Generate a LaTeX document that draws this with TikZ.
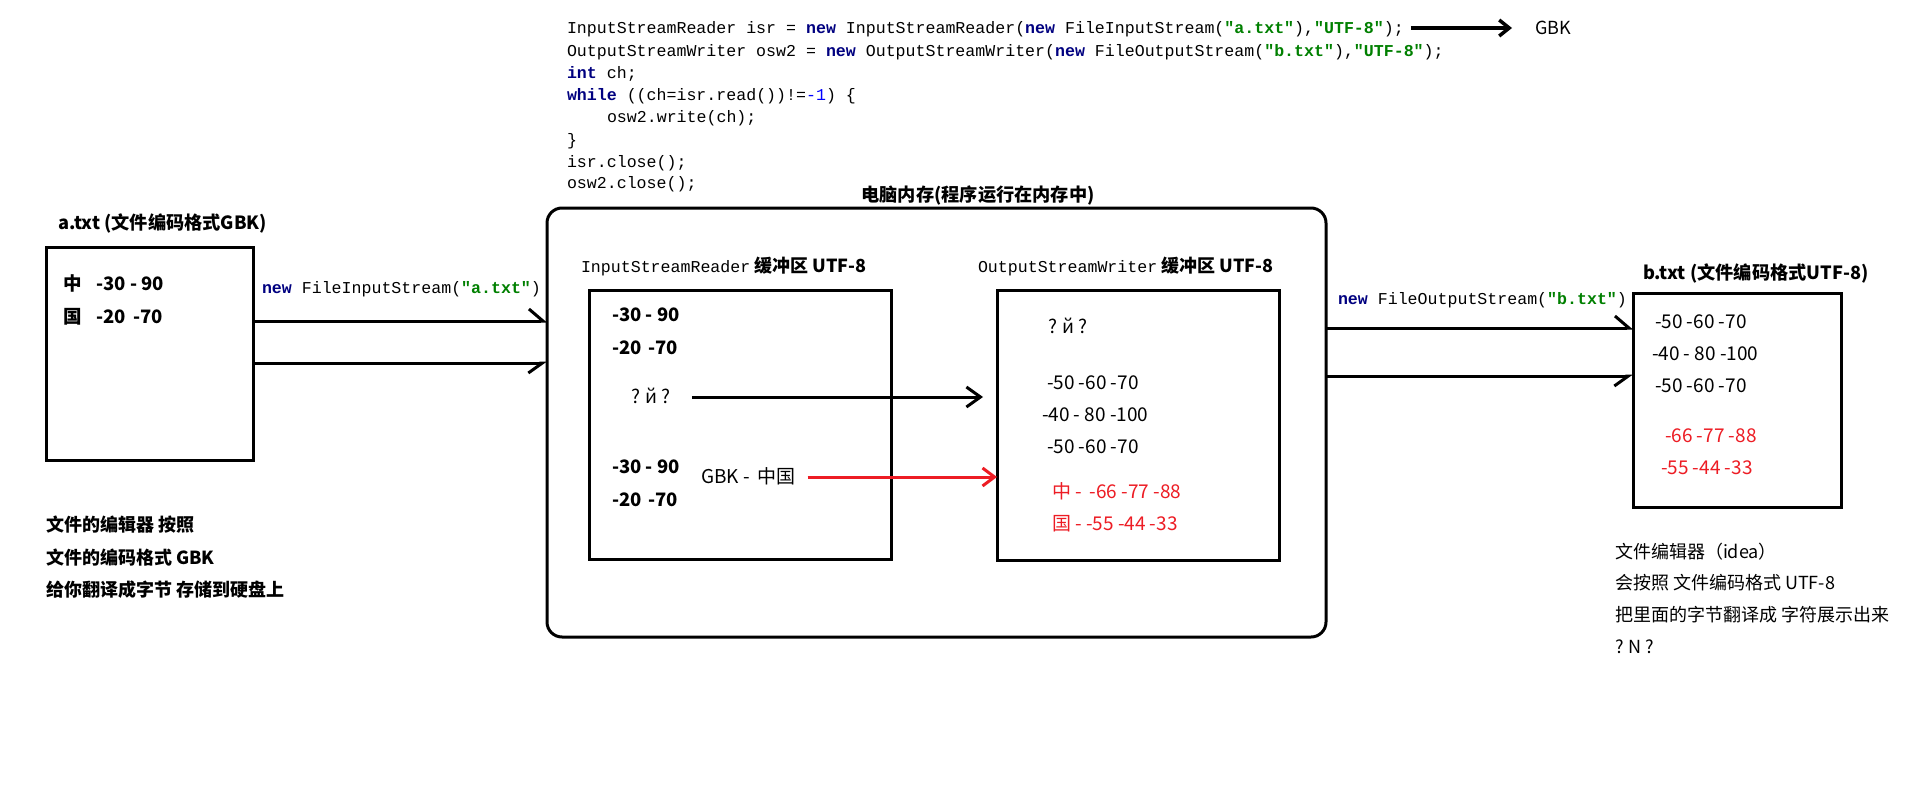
\documentclass[tikz,border=0pt]{standalone}
\usepackage{fontspec}
\setmainfont{Noto Sans CJK SC}
\newfontfamily\code{Liberation Mono}
\usetikzlibrary{arrows.meta}
\definecolor{kwc}{RGB}{0,0,128}
\definecolor{strc}{RGB}{0,128,0}
\definecolor{numc}{RGB}{0,0,255}
\definecolor{pred}{RGB}{237,28,36}
\newcommand{\kw}[1]{\textcolor{kwc}{\bfseries #1}}
\newcommand{\st}[1]{\textcolor{strc}{\bfseries #1}}
\newcommand{\nm}[1]{\textcolor{numc}{#1}}
\begin{document}
\begin{tikzpicture}[x=1pt,y=-1pt,
  txt/.style={inner sep=0pt, outer sep=0pt, anchor=west, font=\fontsize{18}{22}\selectfont, text height=17pt, text depth=4pt},
  btxt/.style={txt, font=\fontsize{18}{22}\selectfont\bfseries},
  ttl/.style={txt, font=\fontsize{18.2}{22}\selectfont\bfseries},
  num/.style={txt, font=\fontsize{19}{22}\selectfont},
  bnum/.style={txt, font=\fontsize{18.5}{22}\selectfont\bfseries},
  rnum/.style={num, text=pred},
  cd/.style={inner sep=0pt, outer sep=0pt, anchor=west, font=\code\fontsize{16.6}{22}\selectfont, text height=15pt, text depth=4pt},
  box/.style={draw, line width=3pt, inner sep=0pt, outer sep=0pt, anchor=north west},
  conn/.style={line width=3pt},
  harpU/.style={conn, -{Straight Barb[harpoon, length=14pt, width=24pt]}},
  harpD/.style={conn, -{Straight Barb[harpoon, swap, length=14pt, width=20pt]}},
  barb/.style={conn, -{Straight Barb[length=14pt, width=20pt]}},
  rbarb/.style={conn, draw=pred, -{Straight Barb[length=12pt, width=18pt]}},
  codearr/.style={line width=3.5pt, -{Straight Barb[length=10pt, width=16pt]}}
]
\fill[white] (0,0) rectangle (1914,811);
\useasboundingbox (0,0) rectangle (1914,811);

% code
\node[cd] (c1) at (567,28) {InputStreamReader isr = \kw{new} InputStreamReader(\kw{new} FileInputStream(\st{"a.txt"}),\st{"UTF-8"});};
\node[cd] (c2) at (567,51) {OutputStreamWriter osw2 = \kw{new} OutputStreamWriter(\kw{new} FileOutputStream(\st{"b.txt"}),\st{"UTF-8"});};
\node[cd] (c3) at (567,73) {\kw{int} ch;};
\node[cd] (c4) at (567,95) {\kw{while} ((ch=isr.read())!=\nm{-1}) \{};
\node[cd] (c5) at (607,117) {osw2.write(ch);};
\node[cd] (c6) at (567,140) {\}};
\node[cd] (c7) at (567,162) {isr.close();};
\node[cd] (c8) at (567,183) {osw2.close();};
\node[txt] (gbk) at (1535,28) {GBK};
\draw[codearr, shorten <=7pt, shorten >=23pt] (c1.east) -- (gbk.west);

% a.txt
\node[ttl] (atitle) at (58,223) {a.txt (文件编码格式GBK)};
\node[box, minimum width=207pt, minimum height=213pt] (afile) at (46,247) {};
\node[bnum] (a1) at (63,284) {中\hspace{15pt}-30 - 90};
\node[bnum] (a2) at (63,317) {国\hspace{15pt}-20\hspace{7pt}-70};
\node[cd] (lblA) at (262,288) {\kw{new} FileInputStream(\st{"a.txt"})};

\node[btxt] (l1) at (46,525) {文件的编辑器 按照};
\node[btxt] (l2) at (46,558) {文件的编码格式 GBK};
\node[btxt] (l3) at (46,590) {给你翻译成字节 存储到硬盘上};

% memory
\node[ttl, anchor=center] (memtitle) at (978,195) {电脑内存(程序运行在内存中)};
\node[box, rounded corners=15pt, minimum width=779pt, minimum height=429pt] (mem) at (547,208) {};

\draw[harpU] (afile.east |- 0,321) -- (mem.west |- 0,321);
\draw[harpD] (afile.east |- 0,363) -- (mem.west |- 0,363);

\node[txt] (inlbl) at (581,266) {{\code\fontsize{16.6}{22}\selectfont InputStreamReader} \textbf{缓冲区 UTF-8}};
\node[box, minimum width=302pt, minimum height=269pt] (inbuf) at (589,290) {};
\node[bnum] (i1) at (612,315) {-30 - 90};
\node[bnum] (i2) at (612,348) {-20\hspace{7pt}-70};
\node[num] (iq) at (631,397) {? й ?};
\node[bnum] (i3) at (612,467) {-30 - 90};
\node[bnum] (i4) at (612,500) {-20\hspace{7pt}-70};
\node[num] (igbk) at (701,477) {GBK -\hspace{8pt}中国};

\node[txt] (outlbl) at (978,266) {{\code\fontsize{16.6}{22}\selectfont OutputStreamWriter} \textbf{缓冲区 UTF-8}};
\node[box, minimum width=282pt, minimum height=270pt] (outbuf) at (997,290) {};
\node[num] (oq) at (1048,327) {? й ?};
\node[num] (o1) at (1047,383) {-50 -60 -70};
\node[num] (o2) at (1042,415) {-40 - 80 -100};
\node[num] (o3) at (1047,447) {-50 -60 -70};
\node[rnum] (o4) at (1052,492) {中 -\hspace{8pt}-66 -77 -88};
\node[rnum] (o5) at (1052,524) {国 - -55 -44 -33};

\draw[barb, shorten <=21pt, shorten >=14pt] (iq.east) -- (outbuf.west |- iq.east);
\draw[rbarb, shorten <=12pt] (igbk.east) -- (outbuf.west |- igbk.east);

% b.txt
\node[ttl] (btitle) at (1643,273) {b.txt (文件编码格式UTF-8)};
\node[box, minimum width=208pt, minimum height=214pt] (bfile) at (1633,293) {};
\node[cd] (lblB) at (1338,299) {\kw{new} FileOutputStream(\st{"b.txt"})};
\draw[harpU] (mem.east |- 0,328) -- (bfile.west |- 0,328);
\draw[harpD] (mem.east |- 0,376) -- (bfile.west |- 0,376);

\node[num] (b1) at (1655,322) {-50 -60 -70};
\node[num] (b2) at (1652,354) {-40 - 80 -100};
\node[num] (b3) at (1655,386) {-50 -60 -70};
\node[rnum] (b4) at (1665,436) {-66 -77 -88};
\node[rnum] (b5) at (1661,468) {-55 -44 -33};

\node[txt] (r1) at (1615,552) {文件编辑器（idea）};
\node[txt] (r2) at (1615,583) {会按照 文件编码格式 UTF-8};
\node[txt] (r3) at (1615,615) {把里面的字节翻译成 字符展示出来};
\node[txt] (r4) at (1615,647) {? N ?};
\end{tikzpicture}
\end{document}
